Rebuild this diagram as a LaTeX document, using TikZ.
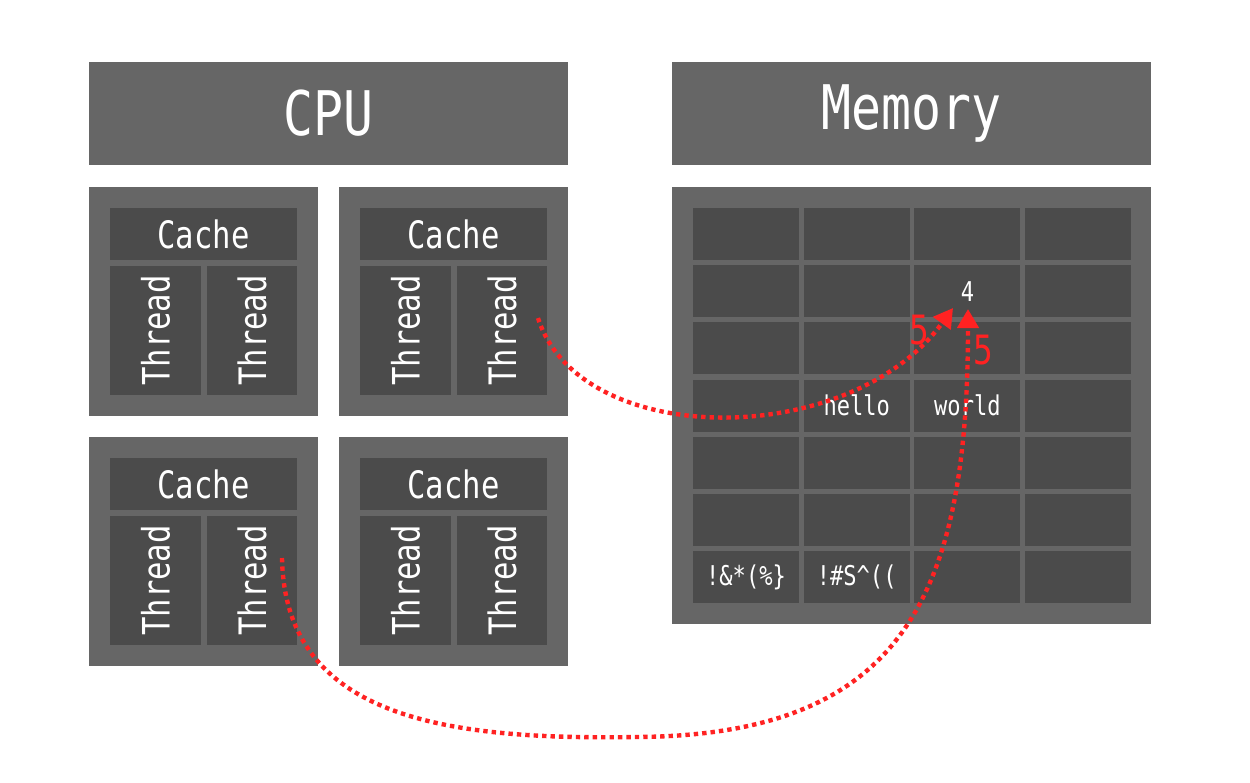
\documentclass[tikz,border=0pt]{standalone}
\usepackage{fontspec}
\newfontfamily\cf{DejaVu Sans Mono}[FakeStretch=0.81]
\usetikzlibrary{arrows.meta}
\definecolor{outerg}{HTML}{666666}
\definecolor{innerg}{HTML}{4B4B4B}
\definecolor{redd}{HTML}{FF2222}
\tikzset{
  outerbox/.style={fill=outerg, draw=none, inner sep=0pt},
  innerbox/.style={fill=innerg, draw=none, inner sep=0pt, text=white},
  headtxt/.style={text=white, font=\cf\fontsize{35}{40}\selectfont},
  midtxt/.style={font=\cf\fontsize{21.5}{24}\selectfont},
  celltxt/.style={font=\cf\fontsize{15.5}{18}\selectfont},
  redlbl/.style={text=redd, font=\cf\fontsize{23}{26}\selectfont, inner sep=0pt},
  link/.style={draw=redd, line width=2.5pt, dash pattern=on 2.5pt off 2.3pt,
    -{Triangle[length=0.38cm,width=0.42cm,fill=redd]}},
}
\begin{document}
\begin{tikzpicture}[x=0.02cm,y=-0.02cm]
\useasboundingbox[fill=white] (0,0) rectangle (1250,782);
% headers
\node[outerbox, minimum width=9.58cm, minimum height=2.06cm, headtxt] (cpu) at (328.5,113.5) {CPU};
\node[outerbox, minimum width=9.58cm, minimum height=2.06cm, headtxt] (mem) at (911.5,113.5) {Memory};
% cores
\foreach \n/\cx/\cy in {a/203.5/301.5, b/453.5/301.5, c/203.5/551.5, d/453.5/551.5}{
  \node[outerbox, minimum width=4.58cm, minimum height=4.58cm] (core\n) at (\cx,\cy) {};
  \node[innerbox, minimum width=3.74cm, minimum height=1.04cm, midtxt] (cache\n) at (\cx,\cy-67.5) {Cache};
  \node[innerbox, minimum width=1.82cm, minimum height=2.58cm] (tl\n) at (\cx-48,\cy+29) {};
  \node[innerbox, minimum width=1.82cm, minimum height=2.58cm] (tr\n) at (\cx+48.5,\cy+29) {};
  \node[rotate=90, text=white, midtxt] (tlt\n) at (\cx-48,\cy+29) {Thread};
  \node[rotate=90, text=white, midtxt] (trt\n) at (\cx+48.5,\cy+29) {Thread};
}
% memory
\node[outerbox, minimum width=9.58cm, minimum height=8.74cm] (membox) at (911.5,405.5) {};
\foreach \i in {0,...,3}{
  \foreach \j in {0,...,6}{
    \node[innerbox, minimum width=2.12cm, minimum height=1.04cm] (cell-\i-\j) at (746+110.7*\i,234+57.2*\j) {};
  }
}
\node[text=white, celltxt] (t4) at (cell-2-1.center) {4};
\node[text=white, celltxt] (thello) at (cell-1-3.center) {hello};
\node[text=white, celltxt] (tworld) at (cell-2-3.center) {world};
\node[text=white, celltxt] (tsym1) at (cell-0-6.center) {!\&*(\%\}};
\node[text=white, celltxt] (tsym2) at (cell-1-6.center) {!\#S\textasciicircum((};
% arrows
\coordinate (s1) at (538,318);
\coordinate (e1) at (953,308);
\coordinate (s2) at (282,558);
\coordinate (m2) at (637,737);
\coordinate (e2) at (968,309);
\draw[link] (s1) .. controls (580,450) and (850,450) .. (e1);
\draw[link] (s2) .. controls (285,720) and (450,740) .. (m2) .. controls (900,735) and (968,600) .. (e2);
\node[redlbl] (l1) at (919,330) {5};
\node[redlbl] (l2) at (983,350) {5};
\end{tikzpicture}
\end{document}
